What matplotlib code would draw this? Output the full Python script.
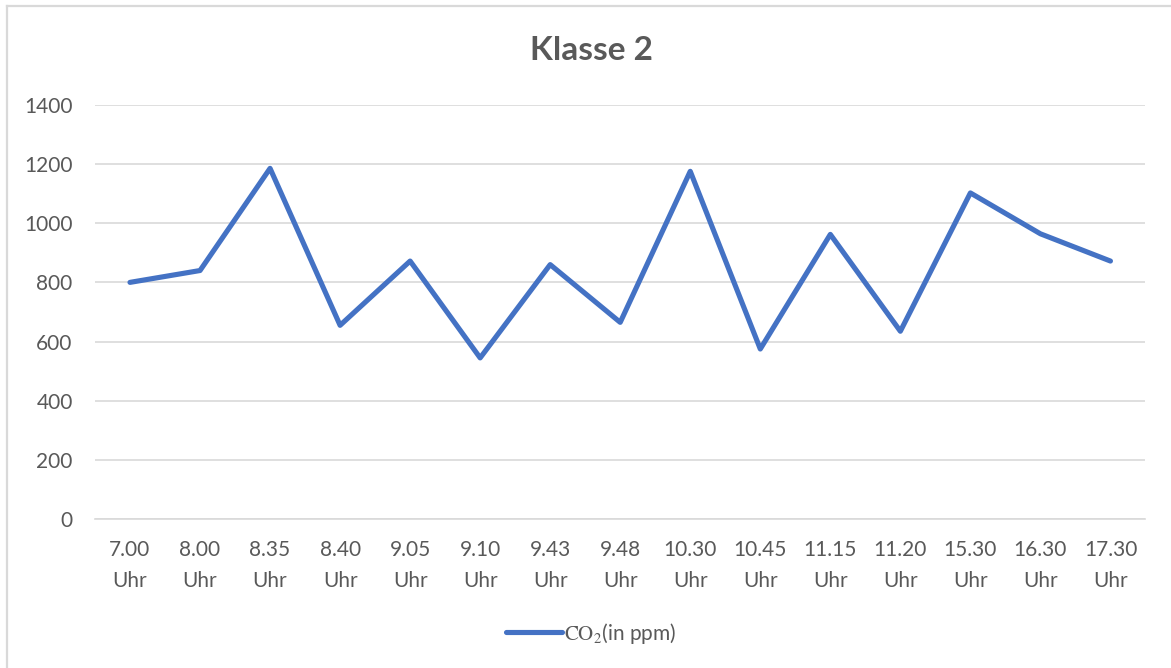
"""Klasse 2 - CO2 concentration over the school day (line chart)."""

import matplotlib

matplotlib.use("Agg")
import matplotlib.pyplot as plt
from matplotlib.lines import Line2D

plt.rcParams.update({"font.family": ["Lato", "DejaVu Sans"], "mathtext.fontset": "stix"})

times = ["7.00", "8.00", "8.35", "8.40", "9.05", "9.10", "9.43", "9.48",
         "10.30", "10.45", "11.15", "11.20", "15.30", "16.30", "17.30"]
co2_ppm = [800, 840, 1185, 655, 872, 545, 860, 665,
           1175, 575, 962, 635, 1102, 964, 872]
y_ticks = [0, 200, 400, 600, 800, 1000, 1200, 1400]

TEXT = "#595959"
GRID = "#D9D9D9"
BLUE = "#4472C4"

fig = plt.figure(figsize=(11.71, 6.68), dpi=100)
ax = fig.add_axes([0.0811, 0.2226, 0.8971, 0.6207])

x = list(range(len(times)))
ax.plot(x, co2_ppm, color=BLUE, lw=3.7, solid_capstyle="round",
        solid_joinstyle="round", zorder=3)

ax.set_xlim(-0.5, len(times) - 0.5)
ax.set_ylim(0, 1400)
ax.set_yticks(y_ticks)
ax.set_yticklabels([str(v) for v in y_ticks])
ax.set_xticks(x)
ax.set_xticklabels([f"{t}\nUhr" for t in times], linespacing=1.7)

ax.grid(axis="y", color=GRID, lw=1.2)
ax.set_axisbelow(True)
for side in ("top", "right", "left"):
    ax.spines[side].set_visible(False)
ax.spines["bottom"].set_color(GRID)
ax.spines["bottom"].set_linewidth(1.2)
ax.tick_params(axis="both", length=0, labelsize=15, labelcolor=TEXT)
ax.tick_params(axis="y", pad=16)
ax.tick_params(axis="x", pad=15)

fig.text(0.505, 0.925, "Klasse 2", ha="center", va="center",
         fontsize=24, fontweight="bold", color=TEXT)

handle = Line2D([], [], color=BLUE, lw=3.7, solid_capstyle="round")
leg = fig.legend([handle], [r"$\mathrm{CO_2}$(in ppm)"], loc="center",
                 bbox_to_anchor=(0.505, 0.052), frameon=False, fontsize=15,
                 labelcolor=TEXT, handlelength=2.7, handletextpad=0.1)

# chart-area border (only top and left edges are visible in the crop)
fig.add_artist(Line2D([7 / 1171, 1], [1 - 6 / 668, 1 - 6 / 668],
                      transform=fig.transFigure, color=GRID, lw=1.6))
fig.add_artist(Line2D([7 / 1171, 7 / 1171], [0, 1 - 6 / 668],
                      transform=fig.transFigure, color=GRID, lw=1.6))

fig.savefig("out.png", dpi=100)
plt.close(fig)
